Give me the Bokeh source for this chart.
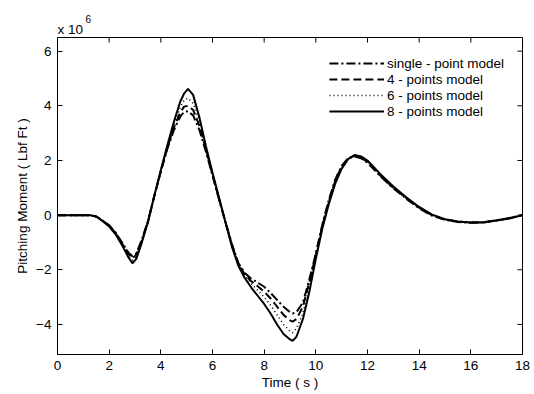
import math
from bokeh.plotting import figure
from bokeh.models import Range1d, Legend, LegendItem, FixedTicker, Title
from bokeh.embed import file_html
from bokeh.resources import INLINE

# Time (s)
t = [0, 0.5, 1, 1.25, 1.5, 1.75,
     2, 2.25, 2.5, 2.75, 2.9,
     3.05, 3.25, 3.5, 3.75,
     4, 4.25, 4.5, 4.75, 4.9,
     5.05, 5.25, 5.5, 5.75,
     6, 6.25, 6.5, 6.75,
     7, 7.25, 7.5, 7.75,
     8, 8.25, 8.5, 8.75,
     9, 9.1, 9.25, 9.5, 9.75,
     10, 10.25, 10.5, 10.75,
     11, 11.25, 11.5, 11.75,
     12, 12.5, 13, 13.5, 14, 14.5, 15, 15.5, 16, 16.5, 17, 17.5, 18]

# Pitching moment (x 10^6 Lbf Ft)
single_point = [0, 0, 0, 0, -0.05, -0.2,
                -0.37, -0.64, -1.0, -1.38, -1.5,
                -1.4, -0.93, -0.22, 0.72,
                1.6, 2.42, 3.1, 3.6, 3.78,
                3.8, 3.65, 3.1, 2.3,
                1.45, 0.58, -0.25, -1.05,
                -1.75, -2.12, -2.33, -2.47,
                -2.62, -2.85, -3.1, -3.35,
                -3.55, -3.6, -3.55, -3.2, -2.35,
                -1.4, -0.35, 0.55, 1.3,
                1.8, 2.08, 2.15, 2.08,
                1.92, 1.42, 0.98, 0.6, 0.25, -0.02, -0.17, -0.25, -0.28, -0.26, -0.19, -0.1, 0]

four_points = [0, 0, 0, 0, -0.05, -0.2,
               -0.38, -0.66, -1.04, -1.42, -1.58,
               -1.45, -0.97, -0.25, 0.7,
               1.6, 2.45, 3.2, 3.75, 3.97,
               4.0, 3.85, 3.25, 2.4,
               1.48, 0.6, -0.25, -1.08,
               -1.78, -2.17, -2.42, -2.6,
               -2.8, -3.05, -3.35, -3.65,
               -3.85, -3.9, -3.8, -3.35, -2.45,
               -1.45, -0.4, 0.5, 1.25,
               1.78, 2.08, 2.17, 2.1,
               1.95, 1.45, 1.0, 0.62, 0.27, 0.0, -0.16, -0.24, -0.27, -0.26, -0.19, -0.11, 0]

six_points = [0, 0, 0, 0, -0.05, -0.21,
              -0.4, -0.68, -1.07, -1.48, -1.65,
              -1.52, -1.0, -0.27, 0.7,
              1.62, 2.5, 3.3, 3.95, 4.2,
              4.28, 4.1, 3.4, 2.45,
              1.5, 0.62, -0.25, -1.1,
              -1.8, -2.22, -2.5, -2.75,
              -3.0, -3.3, -3.65, -4.0,
              -4.25, -4.3, -4.15, -3.6, -2.6,
              -1.5, -0.45, 0.45, 1.2,
              1.75, 2.07, 2.18, 2.12,
              1.97, 1.47, 1.02, 0.63, 0.28, 0.0, -0.16, -0.24, -0.27, -0.26, -0.2, -0.11, 0]

eight_points = [0, 0, 0, 0, -0.05, -0.22,
                -0.42, -0.7, -1.1, -1.55, -1.76,
                -1.6, -1.05, -0.25, 0.72,
                1.65, 2.55, 3.4, 4.15, 4.45,
                4.62, 4.4, 3.55, 2.5,
                1.55, 0.65, -0.25, -1.15,
                -1.85, -2.3, -2.65, -2.95,
                -3.25, -3.6, -4.0, -4.35,
                -4.55, -4.6, -4.45, -3.8, -2.8,
                -1.6, -0.5, 0.4, 1.15,
                1.7, 2.05, 2.2, 2.15,
                2.0, 1.5, 1.05, 0.65, 0.3, 0.02, -0.15, -0.23, -0.27, -0.27, -0.2, -0.12, 0]

labels = ["single - point model", "4 - points model", "6 - points model", "8 - points model"]
x_ticks = [0, 2, 4, 6, 8, 10, 12, 14, 16, 18]
y_ticks = [-4, -2, 0, 2, 4, 6]
X_MIN, X_MAX = 0, 18
Y_MIN, Y_MAX = -5.1, 6.5

FONT = "Liberation Sans"
FS = "13.5px"

p = figure(width=534, height=394, output_backend="svg", toolbar_location=None,
           x_range=Range1d(X_MIN, X_MAX), y_range=Range1d(Y_MIN, Y_MAX),
           min_border_left=57, min_border_right=12, min_border_top=37, min_border_bottom=40)
p.background_fill_color = "white"
p.border_fill_color = "white"
p.outline_line_color = "black"
p.outline_line_width = 1
p.xgrid.visible = False
p.ygrid.visible = False

for ax, ticks in ((p.xaxis[0], x_ticks), (p.yaxis[0], y_ticks)):
    ax.ticker = FixedTicker(ticks=ticks)
    ax.major_tick_in = 5
    ax.major_tick_out = 0
    ax.minor_tick_in = 0
    ax.minor_tick_out = 0
    ax.axis_line_color = "black"
    ax.major_tick_line_color = "black"
    ax.major_label_text_font = FONT
    ax.major_label_text_font_size = FS
    ax.major_label_text_color = "black"
    ax.axis_label_text_font = FONT
    ax.axis_label_text_font_size = FS
    ax.axis_label_text_font_style = "normal"
    ax.axis_label_text_color = "black"

p.xaxis.axis_label = "Time ( s )"
p.yaxis.axis_label = "Pitching Moment ( Lbf Ft )"
p.xaxis.major_label_standoff = 6
p.yaxis.major_label_standoff = 6
p.xaxis.axis_label_standoff = 2
p.yaxis.axis_label_standoff = 3

# mirrored inward ticks on top and right (MATLAB box style)
p.ray(x=x_ticks, y=[Y_MAX] * len(x_ticks), length=5, length_units="screen",
      angle=-math.pi / 2, line_color="black", line_width=1)
p.ray(x=[X_MAX] * len(y_ticks), y=y_ticks, length=5, length_units="screen",
      angle=math.pi, line_color="black", line_width=1)

r1 = p.line(t, single_point, line_color="black", line_width=2, line_dash="9 3 2 3")
r2 = p.line(t, four_points, line_color="black", line_width=2, line_dash="8 4")
r3 = p.line(t, six_points, line_color="black", line_width=1.6, line_dash="1 3")
r4 = p.line(t, eight_points, line_color="black", line_width=2)

legend = Legend(items=[LegendItem(label=labels[0], renderers=[r1]),
                       LegendItem(label=labels[1], renderers=[r2]),
                       LegendItem(label=labels[2], renderers=[r3]),
                       LegendItem(label=labels[3], renderers=[r4])],
                location="top_right", glyph_width=55, glyph_height=16, label_height=16,
                label_standoff=3, spacing=0, padding=4, margin=14,
                border_line_alpha=0, background_fill_alpha=0,
                label_text_font=FONT, label_text_font_size=FS, label_text_color="black")
p.add_layout(legend)

# scale factor "x 10^6" above the top-left corner of the axes
p.add_layout(Title(text="x 10", align="left", text_font=FONT, text_font_size=FS,
                   text_font_style="normal", text_color="black", offset=0, standoff=2), "above")
p.add_layout(Title(text="6", align="left", text_font=FONT, text_font_size="10px",
                   text_font_style="normal", text_color="black", offset=28, standoff=-8), "above")

open("out.html", "w").write(file_html(p, INLINE))
